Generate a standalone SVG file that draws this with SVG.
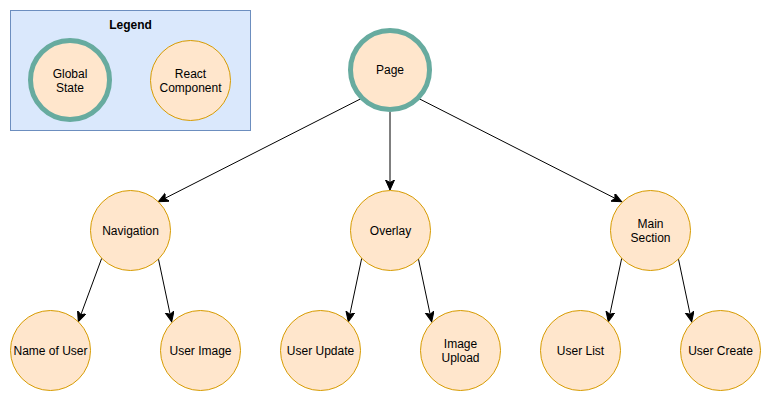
<svg xmlns="http://www.w3.org/2000/svg" width="771" height="401" viewBox="0 0 771 401">
<style>
.n{fill:#FFE6CC;stroke:#D79B00;stroke-width:1}
.g{fill:#FFE6CC;stroke:#67AB9F;stroke-width:5}
.t{font-family:"Liberation Sans",Arial,sans-serif;font-size:12px;fill:#000;text-anchor:middle}
.e{stroke:#000;stroke-width:1;fill:none;marker-end:url(#a)}
</style>
<defs>
<marker id="a" markerUnits="userSpaceOnUse" markerWidth="12" markerHeight="10" viewBox="0 0 12 10" refX="10" refY="4.5" orient="auto">
<path d="M0,0 L10,4.5 L0,9 L2.5,4.5 z" fill="#000" stroke="#000" stroke-width="1"/>
</marker>
</defs>
<rect width="771" height="401" fill="#fff"/>
<g id="legend">
<rect x="10.5" y="10.5" width="240" height="120" fill="#DAE8FC" stroke="#6C8EBF"/>
<text class="t" x="130.5" y="29" font-weight="bold">Legend</text>
<circle class="g" cx="70" cy="80" r="39.5"/>
<text class="t" x="70" y="78">Global</text>
<text class="t" x="70" y="92">State</text>
<circle class="n" cx="190.5" cy="80.5" r="40"/>
<text class="t" x="190.5" y="78">React</text>
<text class="t" x="190.5" y="92">Component</text>
</g>
<g id="connectors">
<line class="e" x1="361.7" y1="98.3" x2="158.3" y2="201.7"/>
<line class="e" x1="390" y1="112" x2="390" y2="190"/>
<line class="e" x1="418.3" y1="98.3" x2="621.7" y2="201.7"/>
<line class="e" x1="101.7" y1="258.3" x2="78.3" y2="321.7"/>
<line class="e" x1="158.3" y1="258.3" x2="171.7" y2="321.7"/>
<line class="e" x1="361.7" y1="258.3" x2="348.3" y2="321.7"/>
<line class="e" x1="418.3" y1="258.3" x2="431.7" y2="321.7"/>
<line class="e" x1="621.7" y1="258.3" x2="608.3" y2="321.7"/>
<line class="e" x1="678.3" y1="258.3" x2="691.7" y2="321.7"/>
</g>
<g id="page"><circle class="g" cx="390" cy="70" r="39.5"/><text class="t" x="390" y="74">Page</text></g>
<g id="navigation"><circle class="n" cx="130.5" cy="230.5" r="40"/><text class="t" x="130.5" y="235">Navigation</text></g>
<g id="overlay"><circle class="n" cx="390.5" cy="230.5" r="40"/><text class="t" x="390.5" y="235">Overlay</text></g>
<g id="main-section"><circle class="n" cx="650.5" cy="230.5" r="40"/><text class="t" x="650.5" y="228">Main</text><text class="t" x="650.5" y="242">Section</text></g>
<g id="name-of-user"><circle class="n" cx="50.5" cy="350.5" r="40"/><text class="t" x="50.5" y="355">Name of User</text></g>
<g id="user-image"><circle class="n" cx="200.5" cy="350.5" r="40"/><text class="t" x="200.5" y="355">User Image</text></g>
<g id="user-update"><circle class="n" cx="320.5" cy="350.5" r="40"/><text class="t" x="320.5" y="355">User Update</text></g>
<g id="image-upload"><circle class="n" cx="460.5" cy="350.5" r="40"/><text class="t" x="460.5" y="348">Image</text><text class="t" x="460.5" y="362">Upload</text></g>
<g id="user-list"><circle class="n" cx="580.5" cy="350.5" r="40"/><text class="t" x="580.5" y="355">User List</text></g>
<g id="user-create"><circle class="n" cx="720.5" cy="350.5" r="40"/><text class="t" x="720.5" y="355">User Create</text></g>
</svg>
